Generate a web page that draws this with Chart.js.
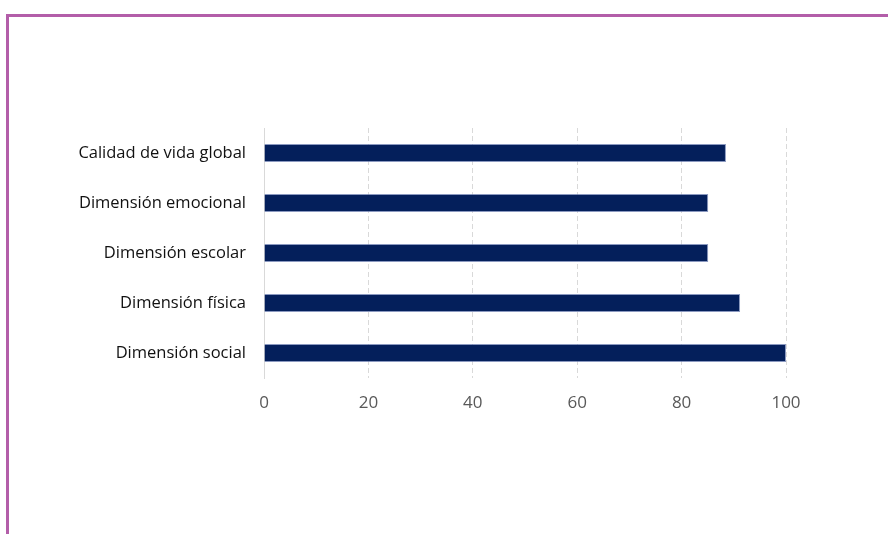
<!DOCTYPE html>
<html>
<head>
<meta charset="utf-8">
<script src="https://cdn.jsdelivr.net/npm/chart.js@4/dist/chart.umd.min.js"></script>
<style>
  html, body { margin: 0; padding: 0; background: #fff; }
  #marco {
    position: absolute; left: 6px; top: 14px; right: 0; bottom: 0;
    border-top: 3px solid #b35ea9; border-left: 3px solid #b35ea9;
  }
  #caja { position: absolute; left: 0; top: 0; width: 888px; height: 534px; }
</style>
</head>
<body>
<div id="marco"></div>
<div id="caja"><canvas id="grafico" width="888" height="534"></canvas></div>
<script>
// categorías y valores (orden de arriba a abajo)
const categorias = ['Calidad de vida global', 'Dimensión emocional', 'Dimensión escolar', 'Dimensión física', 'Dimensión social'];
const valores = [88.5, 85.1, 85.1, 91.2, 100];
const ticksX = [0, 20, 40, 60, 80, 100];

const azul = '#041f5b';
const gris = '#d9d9d9';
const fuente = "'Open Sans', sans-serif";

new Chart(document.getElementById('grafico'), {
    type: 'bar',
    data: {
        labels: categorias,
        datasets: [{
            data: valores,
            backgroundColor: azul,
            borderColor: 'rgba(90,110,165,0.7)',
            borderWidth: 1,
            borderSkipped: 'start',
            barPercentage: 0.72,
            categoryPercentage: 0.5
        }]
    },
    options: {
        indexAxis: 'y',
        responsive: false,
        animation: false,
        devicePixelRatio: 1,
        layout: { padding: { top: 128, right: 102, bottom: 116, left: 0 } },
        plugins: { legend: { display: false }, tooltip: { enabled: false } },
        scales: {
            x: {
                min: 0, max: 100,
                afterBuildTicks: (eje) => { eje.ticks = ticksX.map(v => ({ value: v })); },
                afterFit: (eje) => { eje.height = 40; },
                border: { display: false, dash: [5, 3] },
                grid: {
                    color: (ctx) => ctx.tick && ctx.tick.value === 0 ? 'rgba(0,0,0,0)' : gris,
                    tickLength: 0,
                    drawTicks: false
                },
                ticks: { color: '#595959', font: { family: fuente, size: 17 }, padding: 15 }
            },
            y: {
                afterFit: (eje) => { eje.width = 264; },
                border: { display: true, color: gris, width: 1 },
                grid: { display: false },
                ticks: { color: '#111', font: { family: fuente, size: 16.5 }, padding: 10 }
            }
        }
    }
});
</script>
</body>
</html>
